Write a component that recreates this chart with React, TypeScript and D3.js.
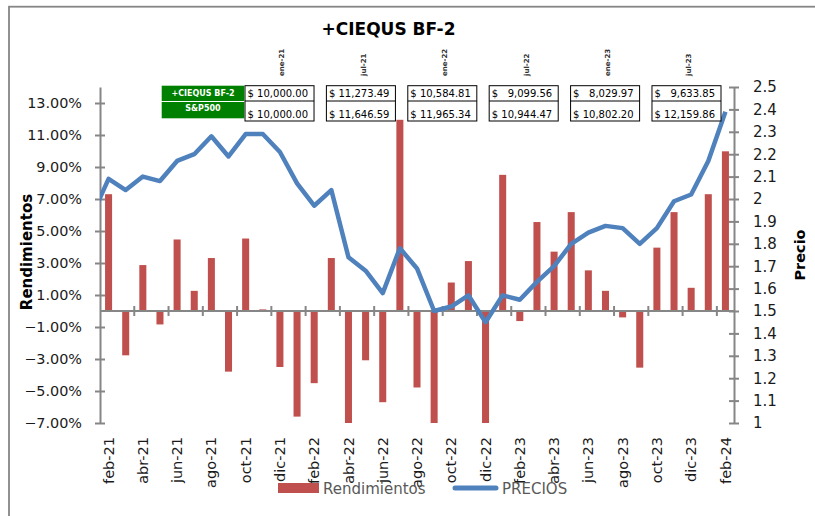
import React, { useEffect, useRef } from "react";
import * as d3 from "d3";

// monthly returns (%), feb-21 .. feb-24
const months = [
  "feb-21", "mar-21", "abr-21", "may-21", "jun-21", "jul-21", "ago-21", "sep-21", "oct-21", "nov-21", "dic-21",
  "ene-22", "feb-22", "mar-22", "abr-22", "may-22", "jun-22", "jul-22", "ago-22", "sep-22", "oct-22", "nov-22", "dic-22",
  "ene-23", "feb-23", "mar-23", "abr-23", "may-23", "jun-23", "jul-23", "ago-23", "sep-23", "oct-23", "nov-23", "dic-23",
  "ene-24", "feb-24",
];
const rendimientos = [
  7.3, -2.77, 2.87, -0.84, 4.47, 1.26, 3.31, -3.79, 4.53, 0.1, -3.5,
  -6.6, -4.51, 3.31, -7.5, -3.08, -5.7, 11.95, -4.78, -7.4, 1.78, 3.12, -7.8,
  8.51, -0.63, 5.56, 3.71, 6.18, 2.54, 1.26, -0.4, -3.54, 3.96, 6.18, 1.45,
  7.3, 9.98,
];

// price index, starts one month earlier (ene-21)
const precioMonths = ["ene-21", ...months];
const precios = [
  1.92, 2.09, 2.04, 2.1, 2.08, 2.17, 2.2, 2.28, 2.19, 2.29, 2.29, 2.21,
  2.07, 1.97, 2.04, 1.74, 1.68, 1.58, 1.78, 1.69, 1.5, 1.52, 1.57, 1.45,
  1.57, 1.55, 1.63, 1.7, 1.8, 1.85, 1.88, 1.87, 1.8, 1.87, 1.99, 2.02,
  2.17, 2.39,
];

const leftTicks = [-7, -5, -3, -1, 1, 3, 5, 7, 9, 11, 13];
const rightTicks = [1, 1.1, 1.2, 1.3, 1.4, 1.5, 1.6, 1.7, 1.8, 1.9, 2, 2.1, 2.2, 2.3, 2.4, 2.5];

// small table above the plot
const tableDates = ["ene-21", "jul-21", "ene-22", "jul-22", "ene-23", "jul-23"];
const ciequsValues = [10000.0, 11273.49, 10584.81, 9099.56, 8029.97, 9633.85];
const sp500Values = [10000.0, 11646.59, 11965.34, 10944.47, 10802.2, 12159.86];
const tableRows = ["+CIEQUS BF-2", "S&P500"];

const FONT = "'DejaVu Sans', sans-serif";
const RED = "#C0504D";
const BLUE = "#4F81BD";
const AXIS = "#868686";

const width = 815;
const height = 516;
const margin = { top: 87, right: 81, bottom: 93, left: 100 };

const Chart = () => {
  const ref = useRef(null);

  useEffect(() => {
    const svg = d3.select(ref.current);
    svg.selectAll("*").remove();

    const x0 = margin.left;
    const x1 = width - margin.right;
    const y0 = height - margin.bottom;
    const y1 = margin.top;

    const x = d3.scaleBand().domain(months).range([x0, x1]).padding(0);
    const yLeft = d3.scaleLinear().domain([-7, 14]).range([y0, y1]);
    const yRight = d3.scaleLinear().domain([1, 2.5]).range([y0, y1]);
    const zeroY = yLeft(0);

    svg.append("rect").attr("width", width).attr("height", height).attr("fill", "#fff");

    // chart border (only top and left are visible)
    svg.append("rect")
      .attr("x", 9).attr("y", 6.7)
      .attr("width", 900).attr("height", 600)
      .attr("fill", "none").attr("stroke", AXIS).attr("stroke-width", 1.8);

    // title
    svg.append("text")
      .attr("x", 388.5).attr("y", 35)
      .attr("text-anchor", "middle")
      .attr("font-family", FONT).attr("font-weight", "bold").attr("font-size", 17)
      .attr("fill", "#000")
      .text("+CIEQUS BF-2");

    svg.append("clipPath").attr("id", "plot-clip")
      .append("rect")
      .attr("x", x0).attr("y", y1)
      .attr("width", x1 - x0).attr("height", y0 - y1);

    // bars
    const bw = x.bandwidth();
    svg.append("g")
      .attr("clip-path", "url(#plot-clip)")
      .selectAll("rect")
      .data(rendimientos)
      .join("rect")
      .attr("x", (d, i) => x(months[i]) + bw * 0.295)
      .attr("width", bw * 0.41)
      .attr("y", (d) => yLeft(Math.max(0, d)))
      .attr("height", (d) => Math.abs(yLeft(d) - zeroY))
      .attr("fill", RED);

    // left axis
    const gl = svg.append("g")
      .attr("transform", `translate(${x0},0)`)
      .call(d3.axisLeft(yLeft).tickValues(leftTicks)
        .tickFormat((d) => d3.format(".2f")(d) + "%")
        .tickSizeInner(5).tickSizeOuter(0).tickPadding(13));
    gl.select(".domain").attr("stroke", AXIS).attr("stroke-width", 2);
    gl.selectAll(".tick line").attr("x1", 5).attr("stroke", AXIS).attr("stroke-width", 2);
    gl.selectAll(".tick text")
      .attr("font-family", FONT).attr("font-size", 14.4).attr("fill", "#1a1a1a");

    // right axis
    const gr = svg.append("g")
      .attr("transform", `translate(${x1},0)`)
      .call(d3.axisRight(yRight).tickValues(rightTicks)
        .tickFormat((d) => String(d))
        .tickSizeInner(5).tickSizeOuter(0).tickPadding(14));
    gr.select(".domain").attr("stroke", AXIS).attr("stroke-width", 2);
    gr.selectAll(".tick line").attr("x1", -5).attr("stroke", AXIS).attr("stroke-width", 2);
    gr.selectAll(".tick text")
      .attr("font-family", FONT).attr("font-size", 15).attr("fill", "#1a1a1a");

    // category axis at zero
    svg.append("line")
      .attr("x1", x0).attr("x2", x1)
      .attr("y1", zeroY).attr("y2", zeroY)
      .attr("stroke", AXIS).attr("stroke-width", 2);
    svg.append("g")
      .selectAll("line")
      .data(months.filter((m, i) => i > 0 && i % 2 === 0))
      .join("line")
      .attr("x1", (d) => x(d)).attr("x2", (d) => x(d))
      .attr("y1", zeroY - 5).attr("y2", zeroY + 5)
      .attr("stroke", AXIS).attr("stroke-width", 2);

    // category labels (low position)
    svg.append("g")
      .selectAll("text")
      .data(months.filter((m, i) => i % 2 === 0))
      .join("text")
      .attr("transform", (d) => `translate(${x(d) + bw / 2},${y0 + 14}) rotate(-90)`)
      .attr("text-anchor", "end")
      .attr("dy", "0.35em")
      .attr("font-family", FONT).attr("font-size", 14.5).attr("fill", "#1a1a1a")
      .text((d) => d);

    // price line
    const line = d3.line()
      .x((d, i) => x0 + x.step() * (i - 0.5))
      .y((d) => yRight(d));
    svg.append("path")
      .datum(precios)
      .attr("clip-path", "url(#plot-clip)")
      .attr("fill", "none")
      .attr("stroke", BLUE)
      .attr("stroke-width", 4.5)
      .attr("stroke-linejoin", "round")
      .attr("d", line);

    // axis titles
    svg.append("text")
      .attr("transform", "translate(32,252) rotate(-90)")
      .attr("text-anchor", "middle")
      .attr("font-family", FONT).attr("font-weight", "bold").attr("font-size", 15)
      .attr("fill", "#000")
      .text("Rendimientos");
    svg.append("text")
      .attr("transform", "translate(805,255) rotate(-90)")
      .attr("text-anchor", "middle")
      .attr("font-family", FONT).attr("font-weight", "bold").attr("font-size", 14.5)
      .attr("fill", "#000")
      .text("Precio");

    // table
    const tx = d3.scaleBand().domain(tableDates).range([245, 721]).paddingInner(0.152);
    const tw = tx.bandwidth();
    const tTop = 85.7;
    const tMid = 101;
    const tBot = 121;
    const money = d3.format(",.2f");

    const cols = svg.append("g").selectAll("g").data(tableDates).join("g");
    cols.append("rect")
      .attr("x", (d) => tx(d)).attr("y", tTop)
      .attr("width", tw).attr("height", tBot - tTop)
      .attr("fill", "#fff").attr("stroke", "#000").attr("stroke-width", 1);
    cols.append("line")
      .attr("x1", (d) => tx(d)).attr("x2", (d) => tx(d) + tw)
      .attr("y1", tMid).attr("y2", tMid)
      .attr("stroke", "#000").attr("stroke-width", 1);
    cols.append("text")
      .attr("transform", (d) => `translate(${tx(d) + tw / 2 + 2.5},76) rotate(-90)`)
      .attr("dy", "0.35em")
      .attr("font-family", FONT).attr("font-weight", "bold").attr("font-size", 7)
      .attr("fill", "#333")
      .text((d) => d);

    [ciequsValues, sp500Values].forEach((vals, r) => {
      const baseY = r === 0 ? 97.2 : 117.5;
      cols.append("text")
        .attr("x", (d) => tx(d) + 2.5).attr("y", baseY)
        .attr("font-family", FONT).attr("font-size", 10).attr("fill", "#000")
        .text("$");
      cols.append("text")
        .attr("x", (d) => tx(d) + tw - 6).attr("y", baseY)
        .attr("text-anchor", "end")
        .attr("font-family", FONT).attr("font-size", 10).attr("fill", "#000")
        .text((d, i) => money(vals[i]));
    });

    // row labels
    const rowY = [[tTop, 15.3], [102, 16.3]];
    tableRows.forEach((label, r) => {
      svg.append("rect")
        .attr("x", 161.7).attr("y", rowY[r][0])
        .attr("width", 82.6).attr("height", rowY[r][1])
        .attr("fill", "#008000");
      svg.append("text")
        .attr("x", 203).attr("y", r === 0 ? 96.3 : 111.3)
        .attr("text-anchor", "middle")
        .attr("font-family", FONT).attr("font-weight", "bold").attr("font-size", 8)
        .attr("fill", "#fff")
        .text(label);
    });

    // legend
    const lg = svg.append("g");
    lg.append("rect")
      .attr("x", 278).attr("y", 483).attr("width", 41).attr("height", 10)
      .attr("fill", RED);
    lg.append("text")
      .attr("x", 323).attr("y", 493.5)
      .attr("font-family", FONT).attr("font-size", 15).attr("fill", "#595959")
      .text("Rendimientos");
    lg.append("line")
      .attr("x1", 455).attr("x2", 496).attr("y1", 488).attr("y2", 488)
      .attr("stroke", BLUE).attr("stroke-width", 5).attr("stroke-linecap", "round");
    lg.append("text")
      .attr("x", 502).attr("y", 493.5)
      .attr("font-family", FONT).attr("font-size", 15).attr("fill", "#595959")
      .text("PRECIOS");
  }, []);

  return <svg ref={ref} width={width} height={height}></svg>;
};

export default function App() {
  return (
    <div style={{ position: "absolute", left: 0, top: 0 }}>
      <Chart />
    </div>
  );
}
